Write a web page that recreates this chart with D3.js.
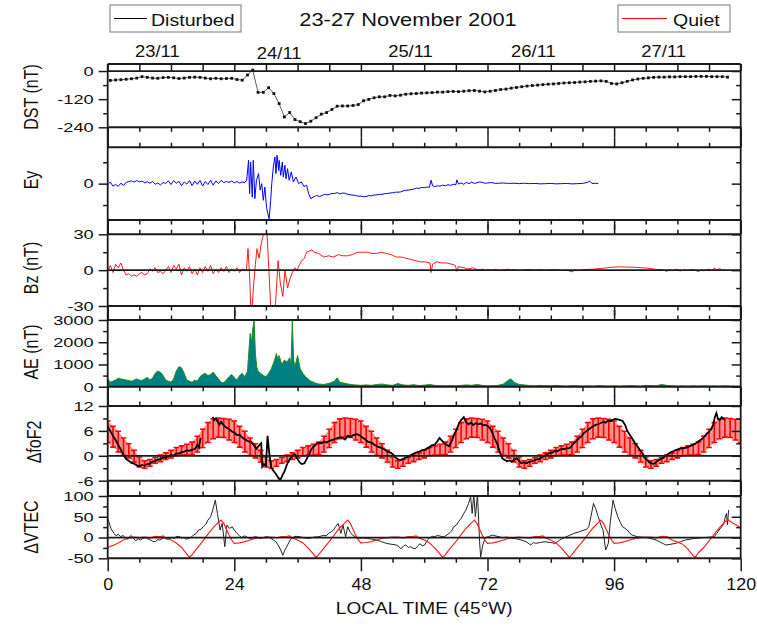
<!DOCTYPE html>
<html><head><meta charset="utf-8">
<script src="https://cdn.jsdelivr.net/npm/d3@7"></script>
<style>body{margin:0;background:#fff}</style>
</head><body>
<svg id="c" width="757" height="626"></svg>
<script>
// ---------------- DATA ----------------
const title = "23-27 November 2001";
const legendLabels = ["Disturbed", "Quiet"];
const dayLabels = ["23/11", "24/11", "25/11", "26/11", "27/11"];
const dayLabelHours = [9.4, 32.5, 57.4, 80.7, 105.4];
const xTickValues = [0, 24, 48, 72, 96, 120];
const xLabel = "LOCAL TIME (45°W)";

// Dst, hourly (hour i + 0.5)
const dstValues = [-40,-38,-37,-35,-33,-30,-24,-27,-30,-31,-28,-27,-29,-32,-30,-27,-26,-27,-30,-33,-31,-33,-32,-31,
 -36,-39,-17,4,-91,-91,-71,-96,-139,-196,-177,-207,-216,-224,-214,-199,-184,-177,-164,-150,-149,-149,-147,-143,-127,
 -121,-114,-110,-110,-104,-106,-103,-99,-97,-96,-94,-93,-92,-90,-90,-88,-87,-88,-86,-84,-83,-86,-89,-86,-83,-79,-77,-73,-70,-67,-64,-62,-60,-58,-56,-55,-53,-51,-50,-49,-47,-46,-44,-43,
 -42,-44,-53,-55,-50,-44,-38,-34,-31,-29,-27,-26,-26,-25,-25,-24,-24,-24,-23,-23,-23,-24,-24,-24,-26];

// Ey [hour, value]
const eyData = [[0,-0.5],[0.5,0.8],[1,-1.2],[1.5,-0.3],[2,-1.3],[2.5,0.2],[3,-0.8],[3.5,0.6],[4,1.0],[4.5,1.3],[5,0.7],[5.5,1.4],[6,0.9],[6.5,1.2],[7,0.4],[7.5,0.9],[8,0.2],[8.5,1.0],[9,-0.3],[9.5,0.3],[10,-0.6],[10.5,0.5],[11,0.1],[11.5,1.3],[12,-0.4],[12.5,1.5],[13,0.2],[13.5,1.1],[14,-1.0],[14.5,0.8],[15,-0.2],[15.5,1.4],[16,-0.9],[16.5,1.2],[17,-0.3],[17.5,1.5],[18,-1.1],[18.5,1.0],[19,-0.4],[19.5,1.6],[20,-0.7],[20.5,1.3],[21,0.0],[21.5,1.5],[22,0.5],[22.5,1.0],[23,0.6],[23.5,1.2],[24,0.4],[24.5,1.0],[25,0.3],[25.5,0.8],[26,0.5],
 [26.35,1.6],[26.7,10.9],[26.9,-4.7],[27.1,10.1],[27.4,-6.3],[27.6,10.9],[27.9,-7],[28.2,1.6],[28.6,4.7],[28.9,-3],[29.2,0],[29.5,-7.8],[29.8,-1.6],[30.1,-11],[30.5,-15.6],[30.6,-16.4],[30.9,-7.8],[31.1,0],[31.4,7.8],[31.7,12.5],[31.9,4.7],[32.1,13.3],[32.4,6.2],[32.5,10.9],[32.8,3.9],[33.1,10.1],[33.3,3.1],[33.6,8.6],[33.8,2.3],[34.1,7.0],[34.4,1.6],[34.8,5.5],[35.2,0.8],[35.7,3.1],[36.2,0],[36.7,0.8],[37.2,-1.3],[37.7,-0.8],[38.1,-4.7],[38.5,-7],[39,-6.3],[39.6,-5.5],[40.1,-6.0],[40.6,-5.6],[41.1,-5.0],[41.5,-5.2],
 [42,-5.0],[42.5,-4.6],[43,-4.6],[43.5,-4.2],[44,-4.8],[44.5,-4.4],[45,-4.5],[45.5,-5.0],[46,-5.2],[46.5,-5.4],[47,-5.5],[47.5,-5.9],[48,-5.8],[48.5,-6.1],[49,-6.0],[49.5,-5.6],[50,-5.7],[50.5,-5.3],[51,-5.2],[51.5,-5.0],[52,-5.0],[52.5,-4.7],[53,-4.6],[53.5,-4.4],[54,-4.3],[54.5,-4.0],[55,-4.0],[55.5,-3.9],[56,-3.4],[56.5,-3.1],[57,-3.0],[57.5,-2.8],[58,-2.6],[58.5,-2.1],[59,-2.2],[59.5,-1.8],[60,-1.9],[60.5,-1.6],[61,-1.7],[61.3,1.6],[61.6,-1.0],[62,-1.4],[62.5,-1.0],[63,-1.2],[63.5,-0.7],[64,-1.0],[64.5,-0.5],[65,-0.8],[65.5,-0.3],[66,-0.5],[66.2,1.8],[66.5,-0.2],[67,0.3],[67.5,-0.3],[68,0.6],[68.5,0.0],[69,0.7],[69.5,0.1],[70,0.4],[70.5,0.8],[71,0.6],[71.5,0.2],[72,0.3],[72.5,0.5],[73,0.4],[73.5,0.1],[74,0.2],[75,0.3],[76,0.1],[77,0.2],[78,0.0],[79,0.2],[80,0.0],[81,0.1],[82,-0.1],[83,0.0],[84,0.1],[85,-0.1],[86,0.0],[87,0.1],[88,-0.1],[89,0.0],[90,0.1],[91,0.6],[91.3,1.2],[91.7,0.4],[92,0.0],[92.5,0.2],[93,0.0]];

// Bz [hour, value]
const bzData = [[0,-1],[0.5,4],[1,-2],[1.5,5],[2,2],[2.5,6],[3,0],[3.5,-4],[4,-3],[4.5,-5],[5,-4],[5.5,-5],[6,-3],[6.5,-2],[7,-4],[7.5,-3],[8,1],[8.5,-1],[9,2],[9.5,-2],[10,-1],[10.5,-3],[11,0],[11.5,3],[12,-2],[12.5,4],[13,1],[13.5,5],[14,-4],[14.5,2],[15,-1],[15.5,3],[16,-3],[16.5,1],[17,-4],[17.5,2],[18,-2],[18.5,3],[19,-1],[19.5,4],[20,-3],[20.5,1],[21,-2],[21.5,2],[22,-1],[22.5,3],[23,-2],[23.5,1],[24,-1],[24.5,2],[25,-2],[25.5,1],[26,0],
 [26.3,0],[26.6,18],[26.9,-5],[27.1,-29],[27.4,-29.5],[27.7,-10],[28,5],[28.3,18],[28.7,10],[29.1,22],[29.4,28],[29.8,31],[30.2,30],[30.5,5],[30.9,-30],[31.4,-30],[31.8,-29],[32.3,8],[32.7,-10],[33.2,-22],[33.6,0],[34.1,-15],[34.5,-8],[35,-2],[35.5,2],[35.9,0],[36.4,5],[36.8,8],[37.3,10],[37.7,15],[38.2,16],[38.7,17],[39.1,15],[40,14],[40.9,11],[41.9,12],[42.8,11],[43.7,13],[44.6,12],[45.5,12],[46.4,13],[47.3,15],[48.3,15],[49.2,15],[50.1,14],[51,14],[51.9,15],[52.8,14],[53.7,13],[54.7,11],[55.6,11],[56.5,10],[57.4,9],[58.3,8],[59.2,7],[60.1,7],[61.1,6],[61.3,-2],[61.6,5],[62.4,7],[63.3,6],[64.3,6],[65.2,5],[65.9,4],[66.2,-1],[66.5,3],[67.5,2],[68.4,1],[69.3,2],[70.2,0],[71.1,1],
 [71.5,-0.5],[72,0.5],[73,0],[73.5,0.8],[74,-0.5],[75,0.3],[76,0.8],[76.5,0],[77,0.5],[78,-0.3],[79,0.2],[80,0.6],[81,0],[82,0.4],[83,-0.2],[84,0.3],[85,0.5],[86,-0.3],[87,0.2],[88,-1.5],[88.5,0],[89,-0.5],[90,0.3],[91,0.6],[92,0.8],[93,1.3],[94,1.6],[95,2.2],[96,2.5],[97,2.8],[98,2.6],[99,2.5],[100,2.4],[101,2.0],[102,1.8],[103,1.3],[104,0.6],[105,0.5],[106,-1],[106.5,0.5],[107,-0.5],[108,0.8],[108.5,-0.8],[109,0.2],[110,-0.3],[111,0.5],[112,-1.2],[112.5,0.4],[113,-0.6],[114,0.9],[114.5,-0.5],[115,1.8],[115.5,0.2],[116,1.5],[116.5,-0.3],[117,0.4]];

// AE [hour, value]
const aeData = [[0,350],[0.5,200],[1,250],[1.5,300],[2,380],[2.5,350],[3,330],[3.5,300],[4,280],[4.5,250],[5,300],[5.5,350],[6,300],[6.5,280],[7,350],[7.5,420],[8,300],[8.5,380],[9,600],[9.5,700],[10,650],[10.5,500],[11,300],[11.5,250],[12,200],[12.5,350],[13,700],[13.5,900],[14,850],[14.5,600],[15,300],[15.5,250],[16,200],[16.5,300],[17,250],[17.5,450],[18,550],[18.5,600],[19,500],[19.5,550],[20,650],[20.5,500],[21,350],[21.5,200],[22,180],[22.5,300],[23,450],[23.5,550],[24,400],[24.5,300],[25,500],[25.5,600],[26,450],[26.5,700],
 [27,2400],[27.25,2000],[27.5,2600],[27.75,3000],[28,1500],[28.25,900],[28.5,700],[29,600],[29.5,500],[30,450],[30.5,600],[31,800],[31.5,1100],[32,1500],[32.25,1200],[32.5,1400],[33,1000],[33.5,1200],[34,1100],[34.5,1300],[34.75,1000],[35,3000],[35.25,1200],[35.5,900],[36,1400],[36.5,800],[37,600],[37.5,450],[38,350],[38.5,250],[39,200],[39.5,150],[40,120],[41,100],[42,150],[43,250],[43.5,400],[44,200],[45,150],[46,100],[47,80],[48,60],
 [49,80],[50,60],[51,100],[52,120],[53,80],[54,60],[55,140],[56,80],[57,60],[58,90],[59,50],[60,70],[61,100],[62,60],[63,50],[64,40],[65,50],[66,40],[67,60],[68,80],[69,60],[70,100],[71,60],[72,40],[73,50],[74,60],[75,120],[76,300],[76.5,350],[77,200],[78,100],[79,80],[80,50],[81,40],[82,60],[83,50],[84,40],[85,60],[86,40],[87,30],[88,50],[89,40],[90,30],[91,40],[92,30],[93,50],[94,40],[95,30],[96,40],[97,30],[98,40],[99,50],[100,40],[101,30],[102,60],[103,50],[104,40],[105,100],[106,60],[107,40],[108,30],[109,40],[110,30],[111,40],[112,30],[113,40],[114,30],[115,40],[116,30],[117,40],[118,30],[119,30],[120,30]];

// Quiet foF2 reference, hourly 0..120: mean and standard deviation
const foF2QuietMean = [5.8,4.6,3.4,2.2,1.2,-0.1,-1.5,-2.1,-1.7,-1.1,-0.6,-0.1,0.4,1.0,1.3,1.5,1.8,2.8,4.2,5.6,6.5,6.8,6.7,6.3,
 5.8,4.6,3.4,2.2,1.2,-0.1,-1.5,-2.1,-1.7,-1.1,-0.6,-0.1,0.4,1.0,1.3,1.5,1.8,2.8,4.2,5.6,6.5,6.8,6.7,6.3,
 5.8,4.6,3.4,2.2,1.2,-0.1,-1.5,-2.1,-1.7,-1.1,-0.6,-0.1,0.4,1.0,1.3,1.5,1.8,2.8,4.2,5.6,6.5,6.8,6.7,6.3,
 5.8,4.6,3.4,2.2,1.2,-0.1,-1.5,-2.1,-1.7,-1.1,-0.6,-0.1,0.4,1.0,1.3,1.5,1.8,2.8,4.2,5.6,6.5,6.8,6.7,6.3,
 5.8,4.6,3.4,2.2,1.2,-0.1,-1.5,-2.1,-1.7,-1.1,-0.6,-0.1,0.4,1.0,1.3,1.5,1.8,2.8,4.2,5.6,6.5,6.8,6.7,6.3,6.0];
const foF2QuietStd = [2.6,2.5,2.5,2.1,1.7,1.4,1.2,0.9,0.8,0.7,0.8,0.8,0.9,1.0,1.1,1.3,1.5,1.9,2.2,2.4,2.4,2.3,2.3,2.5,
 2.6,2.5,2.5,2.1,1.7,1.4,1.2,0.9,0.8,0.7,0.8,0.8,0.9,1.0,1.1,1.3,1.5,1.9,2.2,2.4,2.4,2.3,2.3,2.5,
 2.6,2.5,2.5,2.1,1.7,1.4,1.2,0.9,0.8,0.7,0.8,0.8,0.9,1.0,1.1,1.3,1.5,1.9,2.2,2.4,2.4,2.3,2.3,2.5,
 2.6,2.5,2.5,2.1,1.7,1.4,1.2,0.9,0.8,0.7,0.8,0.8,0.9,1.0,1.1,1.3,1.5,1.9,2.2,2.4,2.4,2.3,2.3,2.5,
 2.6,2.5,2.5,2.1,1.7,1.4,1.2,0.9,0.8,0.7,0.8,0.8,0.9,1.0,1.1,1.3,1.5,1.9,2.2,2.4,2.4,2.3,2.3,2.5,2.8];

// Disturbed foF2 [hour, value] (null = data gap)
const foF2Disturbed = [[0,7.0],[0.5,6.0],[1,4.8],[1.5,3.8],[2,2.6],[2.5,1.5],[3,0.2],[3.5,-0.8],[4,-1.2],[4.5,-1.7],[5,-1.9],[5.5,-2.3],[6,-2.5],[6.5,-2.2],[7,-2.4],[7.5,-2.0],[8,-1.9],[8.5,-1.4],[9,-1.3],[9.5,-0.9],[10,-0.8],[10.5,-0.4],[11,-0.5],[11.5,-0.1],[12,0.2],[12.5,0.0],[13,0.5],[13.5,0.6],[14,0.9],[14.5,1.0],[15,1.3],[15.5,1.2],[16,1.5],[16.5,1.6],[17,2.6],[17.3,2.0],[17.6,4.3],[17.8,null],
 [19.9,9.4],[20.2,8.6],[20.5,9.0],[20.8,8.3],[21.2,7.5],[21.5,8.2],[21.8,7.6],[22.3,7.0],[22.8,6.6],[23.2,6.2],[23.6,5.8],[24,5.6],[24.5,5.0],[25,5.1],[25.4,4.5],[26,4.0],[26.5,3.6],[27.2,3.3],[27.8,2.4],[28.2,1.7],[28.7,2.5],[29.1,3.0],[29.3,-2.6],[29.6,-2.0],[30,-2.4],[30.3,4.8],[30.6,1.0],[31,-2.8],[31.4,-3.6],[31.8,-4.2],[32.3,-5.2],[32.7,-5.9],[33.2,-4.5],[33.6,-3.5],[34,-2.0],[34.5,-0.8],[35,0.0],[35.5,0.3],[36,-0.8],[36.4,-1.6],[36.8,-2.0],[37.3,-1.8],[37.7,-0.8],[38.2,0.4],[38.6,1.6],[39.1,2.3],[39.5,2.8],[40,3.1],[40.5,3.0],[41,3.4],[41.5,3.2],[42,3.6],[42.5,3.8],[43,4.0],[43.7,4.3],[44.3,4.5],[45,3.9],[45.5,4.8],[46,4.6],[46.6,5.0],[47.3,5.2],[47.8,4.9],[48.3,4.4],[48.8,4.0],[49.3,3.4],[50.1,3.1],[50.6,2.6],[51.2,2.2],[51.9,1.9],[52.5,1.5],[53.1,1.0],[53.7,0.7],[54.2,0.2],[54.7,-0.6],[55.2,-0.9],[55.6,-1.0],[56.2,-0.6],[56.9,-0.2],[57.5,0.2],[58.3,0.7],[59,1.0],[59.6,1.3],[60.1,1.5],[60.8,1.9],[61.4,2.5],[62,2.7],[62.5,3.5],[62.9,4.3],[63.4,3.6],[63.8,3.0],[64.3,2.6],[64.7,2.3],[65.2,3.5],[65.6,4.8],[66.2,6.5],[66.6,7.8],[67,8.6],[67.5,9.3],[67.9,8.2],[68.4,7.6],[68.9,8.0],[69.3,7.4],[69.8,7.9],[70.2,7.6],[70.7,7.8],[71.2,7.3],[71.6,7.5],[72,7.2],[72.5,6.6],[72.9,5.6],[73.4,4.0],[73.9,2.7],[74.3,1.0],[74.8,-0.6],[75.3,-1.0],[75.7,-1.3],[76.2,-1.1],[76.6,-1.4],[77.1,-0.9],[77.5,-0.6],[78,-1.2],[78.4,-1.8],[78.9,-1.6],[79.4,-1.8],[79.8,-1.5],[80.2,-1.4],[80.7,-1.2],[81.2,-0.9],[81.6,-0.8],[82.1,-0.6],[82.6,-0.2],[83,0.2],[83.5,0.5],[83.9,0.7],[84.4,0.8],[84.8,1.2],[85.3,1.1],[85.7,1.5],[86.2,1.6],[86.7,1.7],[87.1,1.8],[87.6,1.9],[88.1,2.6],[88.5,3.2],[89,3.8],[89.4,4.3],[89.9,4.8],[90.3,5.5],[90.8,6.0],[91.2,6.4],[91.7,6.8],[92.1,7.2],[92.6,7.5],[93,7.6],[93.5,7.9],[94,8.2],[94.4,8.0],[94.9,8.5],[95.3,8.3],[95.8,8.7],[96.2,8.9],[96.7,8.8],[97.2,8.6],[97.6,8.4],[98.1,7.4],[98.5,6.0],[99,5.0],[99.5,4.0],[100,3.0],[100.4,2.3],[100.9,1.4],[101.4,0.6],[101.8,-0.4],[102.2,-1.0],[102.7,-1.6],[103.1,-1.8],[103.6,-1.9],[104,-1.5],[104.5,-1.0],[104.9,-0.7],[105.4,-0.4],[105.8,0.1],[106.3,0.5],[106.8,0.9],[107.2,1.1],[107.7,1.4],[108.2,1.6],[108.6,1.8],[109.1,1.8],[109.5,1.9],[110,2.1],[110.5,2.4],[111,2.7],[111.5,3.0],[112,3.5],[112.5,3.9],[113,4.5],[113.5,5.2],[114,5.8],[114.5,6.6],[114.8,7.6],[115.1,9.3],[115.4,10.3],[115.7,8.9],[116,8.6],[116.4,9.3],[116.7,8.9],[117,8.7]];

// VTEC quiet [hour, value]
const vtecQuiet = [[0,-24],[1,-19],[2,-13],[3,-6],[4,-1],[5,1],[6,0],[7,1],[8,-1],[9,3],[10,2],[10.5,4],[11,-2],[12,-6],[13,-13],[14,-24],[15,-40],[15.5,-48],[16,-41],[17,-25],[18,-9],[19,8],[20,24],[21,37],[21.5,42],[22,34],[22.5,20],[23,6],[23.5,-6],
 [24,-14],[25,-13],[26,-10],[27,-6],[28,-2],[29,0],[30,0],[31,1],[32,-1],[33,2],[34,3],[34.5,4],[35,-1],[36,-6],[37,-13],[38,-25],[39,-40],[39.5,-48],[40,-41],[41,-25],[42,-10],[43,7],[44,23],[45,36],[45.5,42],[46,34],[46.5,20],[47,6],[47.5,-6],
 [48,-13],[49,-12],[50,-10],[51,-6],[52,-2],[53,0],[54,1],[55,1],[56,-1],[57,2],[58,3],[58.5,4],[59,-1],[60,-6],[61,-13],[62,-25],[63,-40],[63.5,-48],[64,-41],[65,-25],[66,-10],[67,7],[68,23],[69,36],[69.5,42],[70,34],[70.5,20],[71,6],[71.5,-6],
 [72,-14],[73,-13],[74,-10],[75,-6],[76,-2],[77,0],[78,1],[79,0],[80,-1],[81,2],[82,3],[82.5,4],[83,-1],[84,-6],[85,-13],[86,-25],[87,-40],[87.5,-48],[88,-41],[89,-25],[90,-10],[91,7],[92,23],[93,36],[93.5,42],[94,34],[94.5,20],[95,6],[95.5,-6],
 [96,-14],[97,-13],[98,-10],[99,-6],[100,-2],[101,0],[102,1],[103,1],[104,-1],[105,3],[106,2],[106.5,-2],[107,-6],[108,-11],[109,-16],[110,-28],[111,-44],[111.4,-48],[112,-36],[113,-24],[114,-8],[115,8],[116,24],[117,38],[117.6,43],[118.6,34],[119.2,30],[120,22]];

// VTEC disturbed [hour, value]
const vtecDisturbed = [[0,46],[0.3,35],[0.6,22],[1.2,10],[1.6,4],[2,8],[2.5,2],[2.9,5],[3.3,0],[3.8,-4],[4.4,5],[4.9,-2],[5.3,-8],[5.8,-3],[6.2,-6],[6.7,-2],[7.1,0],[7.6,-3],[8,-5],[8.5,-9],[9,-10],[9.5,-5],[9.9,-6],[10.4,-2],[10.8,0],[11.2,-4],[11.7,-2],[12.2,0],[12.6,-2],[13,2],[13.5,3],[14,-1],[14.4,0],[14.9,-4],[15.4,-2],[15.9,2],[16.3,6],[16.8,10],[17.2,18],[17.7,20],[18.1,26],[18.6,32],[19,42],[19.5,50],[19.9,66],[20.4,90],[20.8,58],[21.3,18],[21.7,34],[22.2,-22],[22.6,30],[23.1,22],[23.6,26],[24,18],[24.5,10],[25,4],[25.4,0],[25.9,4],[26.3,2],[26.8,-2],[27.2,-2],[27.7,1],[28.2,2],[28.6,-1],[29.1,-2],[29.7,1],[30.4,2],[30.9,-2],[31.4,-6],[31.9,-10],[32.3,-18],[32.8,-30],[33.2,-43],[33.6,-30],[34.1,-18],[34.6,-6],[35,0],[35.7,3],[36.4,2],[37.3,-1],[38.2,-2],[39.1,1],[40,2],[40.9,5],[41.4,4],[41.9,10],[42.4,14],[42.8,18],[43.2,26],[43.7,34],[44.2,10],[44.6,30],[45.1,2],[45.5,26],[46,12],[46.4,6],[46.9,2],[47.3,-2],[48.3,-1],[49.2,-2],[50.1,-4],[51,-6],[51.9,-10],[52.8,-14],[53.7,-16],[54.7,-18],[55.2,-22],[55.6,-27],[56.1,-20],[56.5,-18],[57,-24],[57.4,-22],[57.9,-26],[58.3,-27],[58.8,-20],[59.2,-15],[59.7,-20],[60.1,-18],[60.6,-6],[61.1,0],[61.6,3],[62,2],[62.5,5],[62.9,4],[63.4,2],[63.8,2],[64.3,6],[64.7,10],[65.2,16],[65.6,26],[66.1,30],[66.5,38],[67,46],[67.5,58],[67.9,66],[68.4,82],[68.8,98],[69.1,58],[69.4,105],[69.7,50],[70.1,105],[70.5,-10],[70.7,-47],[71.1,-18],[71.6,0],[72.2,2],[72.9,6],[73.8,3],[74.8,0],[75.7,1],[76.6,-2],[77.5,-3],[78.4,-6],[79.3,-10],[80.2,-18],[80.7,-12],[81.1,-14],[82,-12],[82.9,-10],[83.9,-12],[84.8,-14],[85.7,-6],[86.6,0],[87.5,5],[88.4,10],[89.4,14],[90.3,18],[90.8,20],[91.2,26],[91.6,50],[92.1,82],[92.5,70],[93,50],[93.5,30],[93.9,18],[94.4,-30],[94.9,-14],[95.3,40],[95.8,90],[96.2,70],[96.7,50],[97.2,36],[97.6,26],[98.1,22],[98.5,18],[99,10],[99.4,6],[99.9,4],[100.4,2],[101.3,1],[102.2,0],[103.1,-3],[104,-6],[104.9,-12],[105.8,-18],[106.8,-16],[107.7,-14],[108.6,-10],[109.5,-6],[110.4,-4],[111.3,-2],[112.2,-1],[113.2,0],[114.1,1],[115,2],[115.5,10],[115.9,18],[116.4,26],[116.8,34],[117.1,50],[117.3,58],[117.5,30],[117.7,66]];

// ---------------- LAYOUT ----------------
const FONT = "'Liberation Sans', Arial, Helvetica, sans-serif";
const svg = d3.select("#c");
const x = d3.scaleLinear().domain([0, 120]).range([107.7, 740.7]);
const X0 = x(0), X1 = x(120);
const frameColor = "#1a1a1a";
const fmt = d => (d < 0 ? "-" + Math.abs(d) : String(d));

const panels = [
  {id:"dst",  top:64,    bottom:127.3, domain:[-240,30], major:[0,-120,-240], minor:[-60,-180], zero:0, label:"DST (nT)", ly:97},
  {id:"ey",   top:147.3, bottom:220,   domain:[-17,17],  major:[0], minor:[-10,10], zero:null, label:"Ey", ly:180},
  {id:"bz",   top:234.3, bottom:306,   domain:[-30,30],  major:[30,0,-30], minor:[15,-15], zero:0, label:"Bz (nT)", ly:268},
  {id:"ae",   top:320,   bottom:386.7, domain:[0,3000],  major:[0,1000,2000,3000], minor:[500,1500,2500], zero:null, label:"AE (nT)", ly:352},
  {id:"fof2", top:406,   bottom:480.7, domain:[-6,12],   major:[12,6,0,-6], minor:[9,3,-3], zero:0, label:"\u0394foF2", ly:442},
  {id:"vtec", top:496,   bottom:558.3, domain:[-50,100], major:[100,50,0,-50], minor:[75,25,-25], zero:0, label:"\u0394VTEC", ly:527}
];
panels.forEach(p => { p.y = d3.scaleLinear().domain(p.domain).range([p.bottom, p.top]); });
const P = {}; panels.forEach(p => P[p.id] = p);

const defs = svg.append("defs");
panels.forEach(p => {
  defs.append("clipPath").attr("id", "clip-" + p.id)
    .append("rect").attr("x", X0).attr("y", p.top).attr("width", X1 - X0).attr("height", p.bottom - p.top);
});

function stretchText(g, px, py, str, size, anchor, sx) {
  return g.append("text")
    .attr("transform", `translate(${px},${py}) scale(${sx},1)`)
    .attr("text-anchor", anchor)
    .attr("font-family", FONT).attr("font-size", size).attr("fill", "#111")
    .text(str);
}

const dataG = svg.append("g");

// ---- DST ----
{
  const p = P.dst;
  const g = dataG.append("g").attr("clip-path", "url(#clip-dst)");
  const pts = dstValues.map((v, i) => [i + 0.5, v]);
  g.append("path").datum(pts)
    .attr("d", d3.line().x(d => x(d[0])).y(d => p.y(d[1])))
    .attr("fill", "none").attr("stroke", "#333").attr("stroke-width", 0.8);
  g.selectAll("rect.m").data(pts).enter().append("rect")
    .attr("x", d => x(d[0]) - 1.4).attr("y", d => p.y(d[1]) - 1.4)
    .attr("width", 2.8).attr("height", 2.8).attr("fill", "#111");
}
// ---- Ey ----
{
  const p = P.ey;
  dataG.append("g").attr("clip-path", "url(#clip-ey)").append("path").datum(eyData)
    .attr("d", d3.line().x(d => x(d[0])).y(d => p.y(d[1])))
    .attr("fill", "none").attr("stroke", "#0000ff").attr("stroke-width", 1);
}
// ---- Bz ----
{
  const p = P.bz;
  dataG.append("g").attr("clip-path", "url(#clip-bz)").append("path").datum(bzData)
    .attr("d", d3.line().x(d => x(d[0])).y(d => p.y(d[1])))
    .attr("fill", "none").attr("stroke", "#ff0000").attr("stroke-width", 0.9);
}
// ---- AE ----
{
  const p = P.ae;
  const g = dataG.append("g").attr("clip-path", "url(#clip-ae)");
  g.append("path").datum(aeData)
    .attr("d", d3.area().x(d => x(d[0])).y0(p.y(0)).y1(d => p.y(d[1])))
    .attr("fill", "#008080").attr("stroke", "#1f8f1f").attr("stroke-width", 1);
}
// ---- foF2 ----
{
  const p = P.fof2;
  const g = dataG.append("g").attr("clip-path", "url(#clip-fof2)");
  const q = foF2QuietMean.map((m, i) => ({h: i, m: m, s: foF2QuietStd[i]}));
  g.append("path").datum(q)
    .attr("d", d3.area().x(d => x(d.h)).y0(d => p.y(d.m - d.s)).y1(d => p.y(d.m + d.s)))
    .attr("fill", "#ff4a4a").attr("opacity", 0.62);
  const eb = g.append("g").attr("stroke", "#ff0000").attr("stroke-width", 1.6);
  q.forEach(d => {
    const cx = x(d.h), y1 = p.y(d.m + d.s), y2 = p.y(d.m - d.s);
    eb.append("line").attr("x1", cx).attr("x2", cx).attr("y1", y1).attr("y2", y2);
    eb.append("line").attr("x1", cx - 2.8).attr("x2", cx + 2.8).attr("y1", y1).attr("y2", y1);
    eb.append("line").attr("x1", cx - 2.8).attr("x2", cx + 2.8).attr("y1", y2).attr("y2", y2);
  });
  g.append("path").datum(foF2Disturbed)
    .attr("d", d3.line().defined(d => d[1] !== null).x(d => x(d[0])).y(d => p.y(d[1])))
    .attr("fill", "none").attr("stroke", "#000").attr("stroke-width", 1.8);
}
// ---- VTEC ----
{
  const p = P.vtec;
  const g = dataG.append("g").attr("clip-path", "url(#clip-vtec)");
  g.append("path").datum(vtecDisturbed)
    .attr("d", d3.line().x(d => x(d[0])).y(d => p.y(d[1])))
    .attr("fill", "none").attr("stroke", "#222").attr("stroke-width", 1);
  g.append("path").datum(vtecQuiet)
    .attr("d", d3.line().x(d => x(d[0])).y(d => p.y(d[1])))
    .attr("fill", "none").attr("stroke", "#ff2020").attr("stroke-width", 1.2);
}

// ---------------- FRAMES & AXES ----------------
const axG = svg.append("g");
const majorX = xTickValues;
const minorX = d3.range(0, 121, 6).filter(h => h % 24 !== 0);

function styleAxis(sel) {
  sel.select(".domain").remove();
  sel.selectAll("line").attr("stroke", frameColor).attr("stroke-width", 1.5);
}

panels.forEach((p, i) => {
  const gl = axG.append("g").attr("transform", `translate(${X0},0)`)
    .call(d3.axisLeft(p.y).tickValues(p.major).tickSize(9).tickPadding(5).tickFormat(fmt));
  styleAxis(gl);
  gl.selectAll("text").attr("x", null)
    .attr("transform", `translate(-14,0) scale(1.35,1)`)
    .attr("font-family", FONT).attr("font-size", 13.5).attr("fill", "#111");
  const glm = axG.append("g").attr("transform", `translate(${X0},0)`)
    .call(d3.axisLeft(p.y).tickValues(p.minor).tickSize(4.5).tickFormat(""));
  styleAxis(glm);
  const gr = axG.append("g").attr("transform", `translate(${X1},0)`)
    .call(d3.axisLeft(p.y).tickValues(p.major).tickSize(9).tickFormat(""));
  styleAxis(gr);
  const grm = axG.append("g").attr("transform", `translate(${X1},0)`)
    .call(d3.axisLeft(p.y).tickValues(p.minor).tickSize(4.5).tickFormat(""));
  styleAxis(grm);

  if (i === 0) {
    const gt = axG.append("g").attr("transform", `translate(0,${p.top})`)
      .call(d3.axisBottom(x).tickValues(majorX.concat(minorX)).tickSize(p.y(0) - p.top).tickFormat(""));
    styleAxis(gt);
  } else {
    const gt = axG.append("g").attr("transform", `translate(0,${p.top})`)
      .call(d3.axisTop(x).tickValues(majorX).tickSize(10).tickFormat(""));
    styleAxis(gt);
    const gtm = axG.append("g").attr("transform", `translate(0,${p.top})`)
      .call(d3.axisTop(x).tickValues(minorX).tickSize(4.5).tickFormat(""));
    styleAxis(gtm);
  }
  const last = i === panels.length - 1;
  const gb = axG.append("g").attr("transform", `translate(0,${p.bottom})`)
    .call(d3.axisBottom(x).tickValues(majorX).tickSize(last ? 13 : 10).tickPadding(7)
      .tickFormat(last ? fmt : ""));
  styleAxis(gb);
  if (last) {
    gb.selectAll("text").attr("y", null).attr("dy", null)
      .attr("transform", `translate(0,${13 + 7 + 12}) scale(1.12,1)`)
      .attr("font-family", FONT).attr("font-size", 16).attr("fill", "#111");
  }
  const gbm = axG.append("g").attr("transform", `translate(0,${p.bottom})`)
    .call(d3.axisBottom(x).tickValues(minorX).tickSize(4.5).tickFormat(""));
  styleAxis(gbm);

  [p.top, p.bottom].forEach(yy => axG.append("line")
    .attr("x1", X0).attr("x2", X1).attr("y1", yy).attr("y2", yy)
    .attr("stroke", frameColor).attr("stroke-width", 2));
  if (p.zero !== null) {
    axG.append("line").attr("x1", X0).attr("x2", X1)
      .attr("y1", p.y(p.zero)).attr("y2", p.y(p.zero))
      .attr("stroke", frameColor).attr("stroke-width", 1.8);
  }
  axG.append("text")
    .attr("transform", `translate(${i === 4 ? 34 : 31},${p.ly}) rotate(-90) scale(1,1.25)`)
    .attr("text-anchor", "middle").attr("dy", "0.36em")
    .attr("font-family", FONT).attr("font-size", 16).attr("fill", "#111")
    .text(p.label);
});
[X0, X1].forEach(xx => axG.append("line")
  .attr("x1", xx).attr("x2", xx).attr("y1", P.dst.top).attr("y2", P.vtec.bottom)
  .attr("stroke", frameColor).attr("stroke-width", 1.8));

stretchText(axG, (X0 + X1) / 2, 614, xLabel, 17, "middle", 1.12);
dayLabels.forEach((d, i) => stretchText(axG, x(dayLabelHours[i]), i === 1 ? 59 : 57, d, 16, "middle", 1.15));
stretchText(svg, 408, 26, title, 19, "middle", 1.15);

{
  const lg = svg.append("g");
  lg.append("rect").attr("x", 110).attr("y", 5).attr("width", 131).attr("height", 27)
    .attr("fill", "#fff").attr("stroke", "#777").attr("stroke-width", 1);
  lg.append("line").attr("x1", 114).attr("x2", 147).attr("y1", 18.5).attr("y2", 18.5)
    .attr("stroke", "#000").attr("stroke-width", 1);
  stretchText(lg, 151, 26, legendLabels[0], 17, "start", 1.15);
  lg.append("rect").attr("x", 618).attr("y", 5).attr("width", 112).attr("height", 27)
    .attr("fill", "#fff").attr("stroke", "#777").attr("stroke-width", 1);
  lg.append("line").attr("x1", 622).attr("x2", 667).attr("y1", 18.5).attr("y2", 18.5)
    .attr("stroke", "#ff0000").attr("stroke-width", 1.2);
  stretchText(lg, 673, 26, legendLabels[1], 17, "start", 1.15);
}
</script>
</body></html>
